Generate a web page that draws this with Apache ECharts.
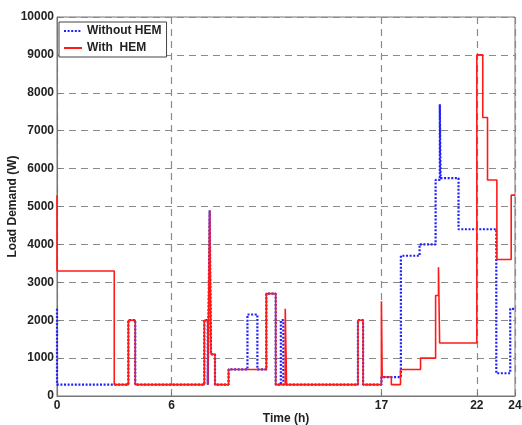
<!DOCTYPE html>
<html>
<head>
<meta charset="utf-8">
<script src="https://cdn.jsdelivr.net/npm/echarts@6/dist/echarts.min.js"></script>
<style>
  html, body { margin: 0; padding: 0; background: #fff; }
  #chart { width: 522px; height: 425px; }
</style>
</head>
<body>
<div id="chart"></div>
<script>
// load profile, step changes (time in h, load in W)
var withoutHemTimes = [0, 0, 3.74, 4.1, 7.72, 7.9, 8.0, 8.07, 8.28, 8.99, 9.98, 10.5, 10.97, 11.46, 11.73, 11.86,
  15.77, 16.04, 17.0, 18.02, 19.0, 19.84, 20.06, 20.1, 21.04, 23.02, 23.75, 24];
var withoutHemLoad = [2300, 300, 2000, 300, 2000, 300, 4900, 1100, 300, 700, 2150, 700, 2700, 300, 2000, 300,
  2000, 300, 500, 3700, 4000, 5700, 7700, 5750, 4400, 600, 2300, 2300];

var withHemTimes = [0, 0, 3.0, 3.74, 4.1, 7.72, 7.9, 8.0, 8.07, 8.28, 8.99, 10.97, 11.46, 11.96, 12.03,
  15.77, 16.04, 17.0, 17.04, 17.52, 18.0, 19.05, 19.84, 19.99, 20.05, 22.0, 22.31, 22.56, 23.05, 23.8, 24];
var withHemLoad = [5300, 3300, 300, 2000, 300, 2000, 300, 4900, 1100, 300, 700, 2700, 300, 2300, 300,
  2000, 300, 2500, 500, 300, 700, 1000, 2650, 3400, 1400, 9000, 7350, 5700, 3600, 5300, 5300];

var timeTicks = [0, 6, 17, 22, 24];
var seriesNames = ['Without HEM', 'With  HEM'];

function pairs(xs, ys) {
  return xs.map(function (x, i) { return [x, ys[i]]; });
}

var FONT = '"Liberation Sans", Arial, sans-serif';
var gridDash = { color: '#8a8a8a', width: 1.2, type: [7, 5] };

var chart = echarts.init(document.getElementById('chart'), null, { renderer: 'canvas' });
chart.setOption({
  backgroundColor: '#fff',
  animation: false,
  grid: {
    left: 57, right: 7, top: 17, bottom: 29, outerBoundsMode: 'none',
    show: true, borderColor: '#777', borderWidth: 1
  },
  legend: {
    orient: 'vertical', left: 59, top: 22,
    backgroundColor: '#fff', borderColor: '#444', borderWidth: 1,
    padding: [3, 5, 3, 4], itemGap: 5, itemWidth: 18, itemHeight: 14,
    itemStyle: { opacity: 0 },
    textStyle: { fontFamily: FONT, fontSize: 12, fontWeight: 'bold', color: '#222' },
    data: seriesNames
  },
  xAxis: {
    type: 'value', min: 0, max: 24,
    name: 'Time (h)', nameLocation: 'middle', nameGap: 17, nameMoveOverlap: false,
    nameTextStyle: { fontFamily: FONT, fontSize: 12, fontWeight: 'bold', color: '#222' },
    axisLine: { lineStyle: { color: '#777' } },
    axisTick: { inside: true, length: 4, customValues: timeTicks, lineStyle: { color: '#777' } },
    axisLabel: { customValues: timeTicks, margin: 4, fontFamily: FONT, fontSize: 12, fontWeight: 'bold', color: '#222' },
    splitLine: { show: true, lineStyle: gridDash }
  },
  yAxis: {
    type: 'value', min: 0, max: 10000, interval: 1000,
    name: 'Load Demand (W)', nameLocation: 'middle', nameGap: 38, nameMoveOverlap: false,
    nameTextStyle: { fontFamily: FONT, fontSize: 12, fontWeight: 'bold', color: '#222' },
    axisLine: { show: true, lineStyle: { color: '#777' } },
    axisTick: { show: true, inside: true, length: 4, lineStyle: { color: '#777' } },
    axisLabel: {
      margin: 3, fontFamily: FONT, fontSize: 12, fontWeight: 'bold', color: '#222',
      formatter: function (v) { return String(v); }
    },
    splitLine: { show: true, lineStyle: gridDash }
  },
  series: [
    {
      name: seriesNames[0], type: 'line', step: 'end', symbol: 'none',
      lineStyle: { color: '#1f1fff', width: 2.2, type: [2, 1.6] },
      itemStyle: { color: '#1f1fff' },
      data: pairs(withoutHemTimes, withoutHemLoad)
    },
    {
      name: seriesNames[1], type: 'line', step: 'end', symbol: 'none',
      lineStyle: { color: '#ff1a1a', width: 1.6 },
      itemStyle: { color: '#ff1a1a' },
      data: pairs(withHemTimes, withHemLoad)
    }
  ]
});
</script>
</body>
</html>
